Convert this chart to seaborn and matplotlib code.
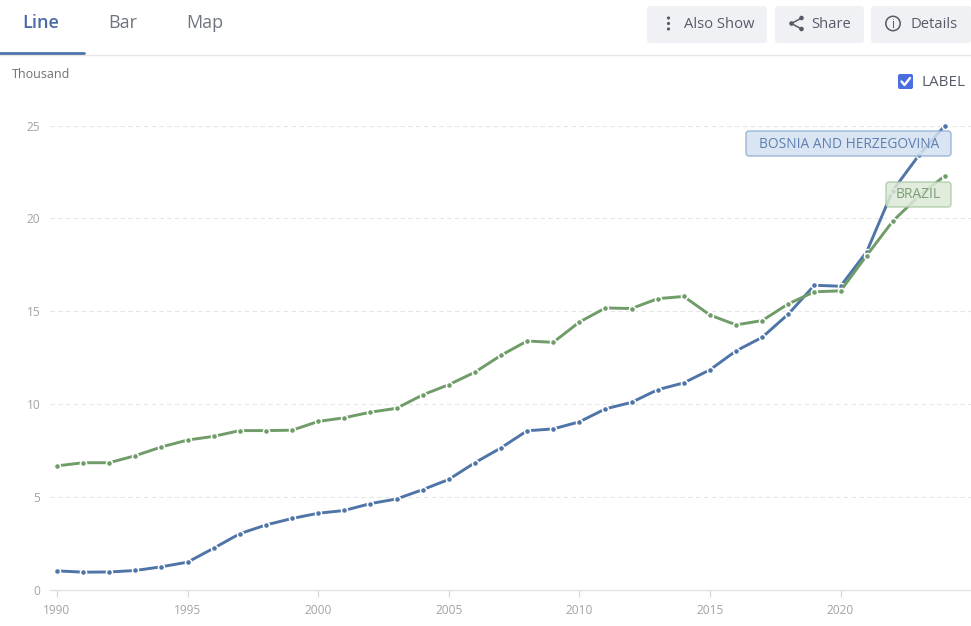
import matplotlib
matplotlib.use("Agg")
import matplotlib.pyplot as plt
import pandas as pd
import seaborn as sns
from matplotlib.patches import FancyBboxPatch, Circle
from matplotlib.lines import Line2D

years = list(range(1990, 2025))
bosnia = [1.03, 0.96, 0.97, 1.05, 1.25, 1.5, 2.25, 3.03, 3.5, 3.85, 4.13, 4.28, 4.65, 4.9, 5.4, 5.95,
          6.85, 7.65, 8.57, 8.67, 9.05, 9.75, 10.1, 10.78, 11.15, 11.85, 12.87, 13.6, 14.85, 16.4,
          16.35, 18.2, 21.5, 23.4, 25.0]
brazil = [6.68, 6.85, 6.85, 7.23, 7.7, 8.07, 8.27, 8.58, 8.58, 8.6, 9.07, 9.27, 9.57, 9.78, 10.5, 11.05,
          11.72, 12.63, 13.4, 13.33, 14.42, 15.18, 15.15, 15.68, 15.8, 14.8, 14.27, 14.5, 15.4, 16.05,
          16.1, 18.0, 19.85, 21.2, 22.3]
series_names = ["BOSNIA AND HERZEGOVINA", "BRAZIL"]
y_ticks = [0, 5, 10, 15, 20, 25]
x_ticks = [1990, 1995, 2000, 2005, 2010, 2015, 2020]
tabs = ["Line", "Bar", "Map"]
buttons = ["Also Show", "Share", "Details"]

BLUE = "#4f74a8"
GREEN = "#6f9c68"
W, H = 971, 626
sns.set_theme(style="white")
plt.rcParams["font.family"] = ["Open Sans", "DejaVu Sans"]

fig = plt.figure(figsize=(W / 100, H / 100), dpi=100, facecolor="white")
# axes box in pixels: left 50, right 971, top 110, bottom 590
ax = fig.add_axes([50 / W, (H - 590) / H, 921 / W, 480 / H])
ppy = (945 - 57) / 34
ax.set_xlim(1990 - 7 / ppy, 1990 + (971 - 57) / ppy)
ppu = (590 - 125.5) / 25
ax.set_ylim(0, 480 / ppu)

df = pd.DataFrame({"year": years * 2, "value": bosnia + brazil,
                   "country": [series_names[0]] * len(years) + [series_names[1]] * len(years)})
sns.lineplot(data=df, x="year", y="value", hue="country", palette=[BLUE, GREEN], ax=ax, legend=False,
             linewidth=2.1, marker="o", markersize=4.4, markeredgecolor="white", markeredgewidth=1.1, zorder=3)
for ln in ax.lines:
    ln.set_clip_on(False)

for s in ["top", "right", "left"]:
    ax.spines[s].set_visible(False)
ax.spines["bottom"].set_color("#e2e2e2")
ax.spines["bottom"].set_linewidth(1)
ax.set_xlabel("")
ax.set_ylabel("")
ax.set_yticks(y_ticks)
ax.set_xticks(x_ticks)
ax.tick_params(axis="y", length=0, labelsize=8.6, labelcolor="#a3a3a3", pad=7)
ax.tick_params(axis="x", length=5, width=0.8, color="#d5d5d5", labelsize=8.6, labelcolor="#a3a3a3", pad=5, bottom=True)
for v in y_ticks[1:]:
    ax.axhline(v, color="#e6e6e6", lw=0.8, ls=(0, (4, 3)), zorder=1)


def px(x, y):
    return x / W, 1 - y / H


def T(x, y, s, **kw):
    kw.setdefault("va", "center")
    fig.text(*px(x, y), s, **kw)


def box(x0, y0, x1, y1, fc, ec="none", lw=0, alpha=1, z=5, r=3):
    p = FancyBboxPatch((x0, H - y1), x1 - x0, y1 - y0, boxstyle=f"round,pad=0,rounding_size={r}",
                       fc=fc, ec=ec, lw=lw, alpha=alpha, transform=None, zorder=z)
    fig.add_artist(p)
    return p


# Tabs
T(41, 23, tabs[0], color="#4a6aa5", fontsize=13, fontweight="semibold", ha="center")
T(123, 23, tabs[1], color="#6f7580", fontsize=13, ha="center")
T(205, 23, tabs[2], color="#6f7580", fontsize=13, ha="center")
fig.add_artist(Line2D([0, 1], [1 - 54.5 / H] * 2, color="#e6e6e6", lw=1))
fig.add_artist(Line2D([0, 84 / W], [1 - 52.5 / H] * 2, color="#4f74a8", lw=2))
T(12, 74, "Thousand", color="#707070", fontsize=9)

# Buttons
box(647, 6, 767, 43, "#f0f1f5")
box(775, 6, 864, 43, "#f0f1f5")
box(871, 6, 971, 43, "#f0f1f5")
T(684, 24, buttons[0], color="#555c68", fontsize=10.6, zorder=6)
T(811, 24, buttons[1], color="#555c68", fontsize=10.6, zorder=6)
T(910, 24, buttons[2], color="#555c68", fontsize=10.6, zorder=6)
# Also-show dots
for yy in (18, 23.5, 29):
    fig.add_artist(Circle((668.5, H - yy), 1.6, fc="#555c68", ec="none", transform=None, zorder=6))
# Share icon
sx = [(801.5, 18), (791.5, 23.5), (801.5, 29)]
for a, b in [(sx[0], sx[1]), (sx[1], sx[2])]:
    fig.add_artist(Line2D([a[0] / W, b[0] / W], [1 - a[1] / H, 1 - b[1] / H], color="#555c68", lw=1.1, zorder=6))
for a in sx:
    fig.add_artist(Circle((a[0], H - a[1]), 2.3, fc="#555c68", ec="none", transform=None, zorder=6))
# Details icon
fig.add_artist(Circle((893, H - 23.5), 7.2, fc="none", ec="#555c68", lw=1.1, transform=None, zorder=6))
T(893, 24.5, "i", color="#555c68", fontsize=8.5, ha="center", zorder=7)

# Checkbox
box(898, 74, 913, 89, "#4a6ee0", r=2)
fig.add_artist(Line2D([901.5 / W, 904.5 / W, 910 / W], [1 - 81.5 / H, 1 - 85 / H, 1 - 78 / H], color="white", lw=1.7, zorder=7))
T(921, 82.5, "LABEL", color="#555c68", fontsize=11)

# Data labels
box(746, 131, 951, 156, "#d3e1f0", ec="#8fadd0", lw=1, alpha=0.85, z=6)
T(849, 144, series_names[0], color="#5f7fae", fontsize=9.95, ha="center", zorder=7)
box(886, 182, 951, 207, "#dce9d8", ec="#a9c8a3", lw=1, alpha=0.85, z=6)
T(918.5, 195, series_names[1], color="#7f9f78", fontsize=10, ha="center", zorder=7)

fig.savefig("out.png", dpi=100, facecolor="white")
